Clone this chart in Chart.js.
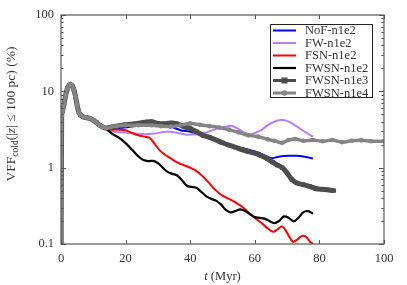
<!DOCTYPE html>
<html>
<head>
<meta charset="utf-8">
<script src="https://cdn.jsdelivr.net/npm/chart.js@4.4.0/dist/chart.umd.min.js"></script>
<style>
  html, body { margin: 0; padding: 0; background: #fff; }
</style>
</head>
<body>
<canvas id="chart" width="407" height="285"></canvas>
<script>
// shared start of all runs (t in Myr, VFF in %)
var earlyT = [0, 0.2, 0.5, 1, 1.5, 2, 2.5, 3, 3.5, 4, 4.5, 5, 5.5, 6, 7, 8, 9, 10, 11, 12, 13];
var earlyV = [0.01, 4.8, 5.6, 7, 9, 11, 12, 12.2, 11.8, 10.5, 8.5, 6.5, 5.4, 4.9, 4.6, 4.5, 4.4, 4.2, 3.9, 3.6, 3.4];

var nofT = [14, 18, 22, 26, 30, 34, 37, 40, 43, 46, 49, 52, 55, 58, 61, 63, 65, 67, 69, 71, 73, 75, 77, 78];
var nofV = [3.2, 3.3, 3.45, 3.6, 3.55, 3.45, 3.1, 2.95, 2.7, 2.4, 2.2, 2.0, 1.85, 1.72, 1.58, 1.45, 1.33, 1.38, 1.42, 1.43, 1.43, 1.4, 1.35, 1.32];

var fwT = [14, 16, 18, 20, 23, 26, 29, 31, 33, 35, 37, 39, 41, 43, 45, 47, 49, 51, 53, 55, 57, 58.5, 60, 62, 64, 66, 68, 70, 72, 74, 76, 78];
var fwV = [3.2, 3.0, 2.9, 2.88, 2.8, 2.75, 2.8, 2.9, 2.98, 2.9, 2.8, 2.7, 2.72, 2.76, 2.9, 3.1, 3.3, 3.45, 3.52, 3.2, 2.85, 2.75, 2.85, 3.1, 3.6, 4.0, 4.22, 4.1, 3.7, 3.25, 2.85, 2.55];

var fsnT = [14, 16, 18, 20, 22, 24, 26, 27.5, 29, 30.5, 32, 34, 36, 38, 40, 42, 44, 46, 48, 50, 52, 54, 56, 58, 60, 62, 64, 65.7, 67, 68.5, 70, 71.8, 73, 74.5, 75.8, 77, 78];
var fsnV = [3.2, 3.15, 3.15, 3.1, 2.85, 2.65, 2.55, 2.45, 2.05, 1.7, 1.5, 1.32, 1.17, 1.08, 1.0, 0.9, 0.76, 0.62, 0.5, 0.43, 0.39, 0.35, 0.31, 0.26, 0.22, 0.19, 0.16, 0.145, 0.155, 0.17, 0.14, 0.107, 0.113, 0.127, 0.125, 0.108, 0.1];

var fwsnT = [14, 16, 18, 20, 22, 24, 25.5, 27, 28.5, 30, 31.5, 33, 34.5, 36, 37.5, 39, 40.5, 42, 43.5, 45, 46.5, 48, 49.5, 51, 52.5, 54, 55.5, 57, 58.5, 60, 61.5, 63, 64.5, 66, 67.5, 69, 70.5, 72, 73.5, 75, 76.5, 78];
var fwsnV = [3.2, 2.75, 2.45, 2.1, 1.72, 1.4, 1.26, 1.22, 1.23, 1.15, 1.0, 0.88, 0.83, 0.79, 0.68, 0.58, 0.56, 0.54, 0.48, 0.42, 0.39, 0.37, 0.33, 0.28, 0.26, 0.27, 0.285, 0.27, 0.245, 0.225, 0.22, 0.215, 0.2, 0.187, 0.2, 0.23, 0.22, 0.198, 0.22, 0.26, 0.27, 0.25];

var n1e3T = [14, 17, 20, 23, 26, 28, 30, 32, 34, 36, 38, 40, 42, 44, 46, 48, 50, 52, 54, 56, 58, 60, 62, 64, 65.5, 67, 68.5, 70, 71.5, 73, 75, 77, 79, 81, 83, 84.5];
var n1e3V = [3.3, 3.5, 3.65, 3.75, 3.95, 4.0, 3.8, 3.75, 3.85, 3.75, 3.45, 3.25, 2.95, 2.65, 2.5, 2.3, 2.12, 1.98, 1.85, 1.72, 1.62, 1.55, 1.43, 1.3, 1.18, 1.08, 1.0, 0.85, 0.7, 0.63, 0.6, 0.57, 0.53, 0.52, 0.51, 0.5];

var n1e4T = [14, 17, 20, 24, 28, 31, 34, 37, 40, 43, 46, 49, 52, 55, 58, 61, 64, 66, 68.5, 70.5, 72.5, 75, 78, 81, 84, 87, 90, 93, 96, 100];
var n1e4V = [3.3, 3.5, 3.6, 3.6, 3.6, 3.5, 3.45, 3.6, 3.8, 3.65, 3.5, 3.35, 3.15, 2.9, 2.65, 2.55, 2.35, 2.25, 2.12, 2.3, 2.37, 2.25, 2.3, 2.22, 2.3, 2.15, 2.25, 2.28, 2.22, 2.22];

var labels = ['NoF-n1e2', 'FW-n1e2', 'FSN-n1e2', 'FWSN-n1e2', 'FWSN-n1e3', 'FWSN-n1e4'];
var xTicks = [0, 20, 40, 60, 80, 100];
var yTicks = [0.1, 1, 10, 100];

var serif = "'Liberation Serif', 'DejaVu Serif', serif";
var textColor = '#333';

function toPoints(ts, vs) {
    var all = [];
    for (var i = 0; i < earlyT.length; i++) all.push({x: earlyT[i], y: earlyV[i]});
    for (var j = 0; j < ts.length; j++) all.push({x: ts[j], y: vs[j]});
    return all;
}

function series(i, ts, vs, color, width, style, radius) {
    return {
        label: labels[i],
        data: toPoints(ts, vs),
        borderColor: color,
        backgroundColor: color,
        borderWidth: width,
        pointStyle: style || 'circle',
        pointRadius: radius || 0,
        pointBorderWidth: 0,
        tension: 0.35,
        order: 5 - i
    };
}

// frame, inward ticks, legend box and axis titles
var decorations = {
    id: 'decorations',
    afterDraw: function (chart) {
        var ctx = chart.ctx;
        var a = chart.chartArea;
        var x = chart.scales.x, y = chart.scales.y;
        ctx.save();
        ctx.strokeStyle = '#555';
        ctx.lineWidth = 1.2;
        ctx.strokeRect(a.left, a.top, a.right - a.left, a.bottom - a.top);

        ctx.lineWidth = 1;
        ctx.beginPath();
        xTicks.forEach(function (v) {
            var px = Math.round(x.getPixelForValue(v)) + 0.5;
            ctx.moveTo(px, a.bottom); ctx.lineTo(px, a.bottom - 4);
            ctx.moveTo(px, a.top); ctx.lineTo(px, a.top + 4);
        });
        yTicks.forEach(function (v, k) {
            var py = Math.round(y.getPixelForValue(v)) + 0.5;
            ctx.moveTo(a.left, py); ctx.lineTo(a.left + 5, py);
            ctx.moveTo(a.right, py); ctx.lineTo(a.right - 5, py);
            if (k < yTicks.length - 1) {
                for (var m = 2; m <= 9; m++) {
                    var pm = Math.round(y.getPixelForValue(v * m)) + 0.5;
                    ctx.moveTo(a.left, pm); ctx.lineTo(a.left + 2.5, pm);
                    ctx.moveTo(a.right, pm); ctx.lineTo(a.right - 2.5, pm);
                }
            }
        });
        ctx.stroke();

        // legend
        var bx = 270.5, by = 24.5, bw = 102, bh = 73;
        ctx.fillStyle = '#fff';
        ctx.fillRect(bx, by, bw, bh);
        ctx.strokeStyle = '#222';
        ctx.lineWidth = 1;
        ctx.strokeRect(bx, by, bw, bh);
        ctx.font = '12.5px ' + serif;
        ctx.textBaseline = 'middle';
        chart.data.datasets.forEach(function (ds, i) {
            var cy = 30.5 + i * 12.5;
            ctx.strokeStyle = ds.borderColor;
            ctx.lineWidth = Math.min(ds.borderWidth, 3);
            ctx.beginPath();
            ctx.moveTo(273, cy); ctx.lineTo(296, cy);
            ctx.stroke();
            ctx.fillStyle = ds.borderColor;
            if (ds.pointRadius > 0) {
                if (ds.pointStyle === 'rect') {
                    ctx.fillRect(284.5 - 3, cy - 3, 6, 6);
                } else {
                    ctx.beginPath(); ctx.arc(284.5, cy, 2.8, 0, Math.PI * 2); ctx.fill();
                }
            }
            ctx.fillStyle = textColor;
            ctx.textAlign = 'left';
            ctx.fillText(ds.label, 305, cy + 0.5);
        });

        // x title
        ctx.fillStyle = textColor;
        ctx.textBaseline = 'alphabetic';
        ctx.font = 'italic 12.5px ' + serif;
        var w1 = ctx.measureText('t').width;
        ctx.font = '12.5px ' + serif;
        var w2 = ctx.measureText(' (Myr)').width;
        var sx = (a.left + a.right) / 2 - (w1 + w2) / 2;
        ctx.font = 'italic 12.5px ' + serif;
        ctx.fillText('t', sx, 280);
        ctx.font = '12.5px ' + serif;
        ctx.fillText(' (Myr)', sx + w1, 280);

        // y title
        var parts = [
            {t: 'VFF', f: '13.5px ' + serif, dy: 0},
            {t: 'cold', f: '9.5px ' + serif, dy: 2.5},
            {t: '(|', f: '13.5px ' + serif, dy: 0},
            {t: 'z', f: 'italic 13.5px ' + serif, dy: 0},
            {t: '| \u2264 100 pc) (%)', f: '13.5px ' + serif, dy: 0}
        ];
        var total = 0;
        parts.forEach(function (p) { ctx.font = p.f; p.w = ctx.measureText(p.t).width; total += p.w; });
        ctx.translate(15, 114);
        ctx.rotate(-Math.PI / 2);
        var cx = -total / 2;
        parts.forEach(function (p) {
            ctx.font = p.f;
            ctx.fillText(p.t, cx, p.dy);
            cx += p.w;
        });
        ctx.restore();
    }
};

new Chart(document.getElementById('chart'), {
    type: 'line',
    data: {
        datasets: [
            series(0, nofT, nofV, '#0000ff', 2),
            series(1, fwT, fwV, '#b580f5', 2),
            series(2, fsnT, fsnV, '#ff0000', 2),
            series(3, fwsnT, fwsnV, '#000000', 2.2),
            series(4, n1e3T, n1e3V, '#4d4d4d', 5, 'rect', 3),
            series(5, n1e4T, n1e4V, '#858585', 3.5, 'circle', 2.3)
        ]
    },
    options: {
        responsive: false,
        animation: false,
        layout: {padding: {top: 15, right: 23, left: 0, bottom: 0}},
        plugins: {legend: {display: false}, tooltip: {enabled: false}},
        scales: {
            x: {
                type: 'linear',
                min: 0, max: 100,
                afterBuildTicks: function (s) { s.ticks = xTicks.map(function (v) { return {value: v}; }); },
                afterFit: function (s) { s.height = 41; },
                grid: {display: false, drawTicks: false},
                border: {display: false},
                ticks: {padding: 7, color: textColor, font: {family: serif, size: 12.5}, maxRotation: 0}
            },
            y: {
                type: 'logarithmic',
                min: 0.1, max: 100,
                afterBuildTicks: function (s) { s.ticks = yTicks.map(function (v) { return {value: v}; }); },
                afterFit: function (s) { s.width = 61; },
                grid: {display: false, drawTicks: false},
                border: {display: false},
                ticks: {
                    padding: 7, color: textColor, font: {family: serif, size: 12.5},
                    callback: function (v) { return String(v); }
                }
            }
        }
    },
    plugins: [decorations]
});
</script>
</body>
</html>
